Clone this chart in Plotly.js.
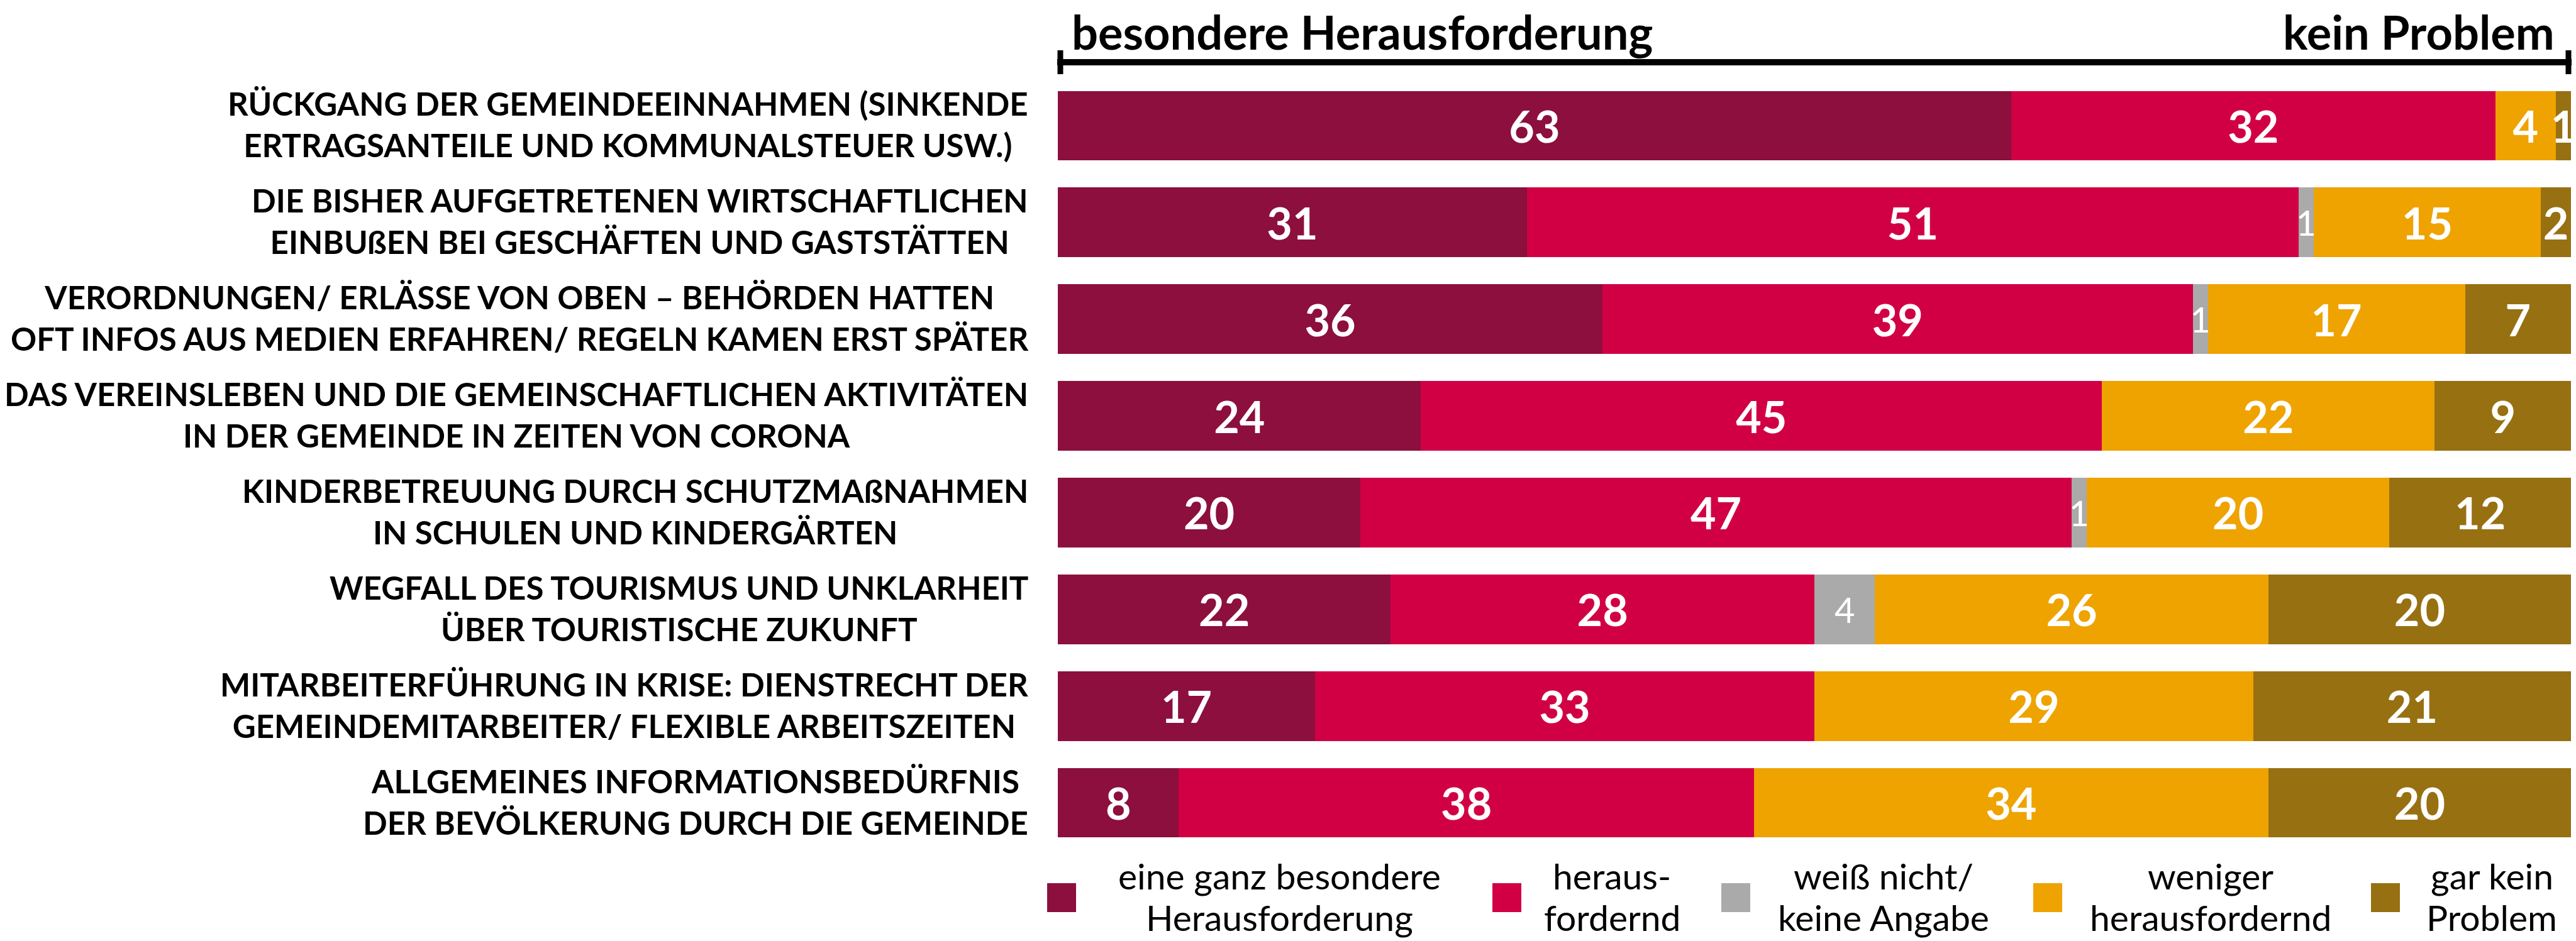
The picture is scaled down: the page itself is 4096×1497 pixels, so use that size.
<!DOCTYPE html>
<html><head><meta charset="utf-8">
<script src="https://cdn.plot.ly/plotly-3.0.1.min.js"></script>
<style>html,body{margin:0;padding:0;background:#fff;overflow:hidden}</style>
</head><body><div id="chart" style="width:4096px;height:1497px"></div>
<script>
// ---------- data ----------
const categories = [
  "RÜCKGANG DER GEMEINDEEINNAHMEN (SINKENDE<br>ERTRAGSANTEILE UND KOMMUNALSTEUER USW.)",
  "DIE BISHER AUFGETRETENEN WIRTSCHAFTLICHEN<br>EINBUßEN BEI GESCHÄFTEN UND GASTSTÄTTEN",
  "VERORDNUNGEN/ ERLÄSSE VON OBEN – BEHÖRDEN HATTEN<br>OFT INFOS AUS MEDIEN ERFAHREN/ REGELN KAMEN ERST SPÄTER",
  "DAS VEREINSLEBEN UND DIE GEMEINSCHAFTLICHEN AKTIVITÄTEN<br>IN DER GEMEINDE IN ZEITEN VON CORONA",
  "KINDERBETREUUNG DURCH SCHUTZMAßNAHMEN<br>IN SCHULEN UND KINDERGÄRTEN",
  "WEGFALL DES TOURISMUS UND UNKLARHEIT<br>ÜBER TOURISTISCHE ZUKUNFT",
  "MITARBEITERFÜHRUNG IN KRISE: DIENSTRECHT DER<br>GEMEINDEMITARBEITER/ FLEXIBLE ARBEITSZEITEN",
  "ALLGEMEINES INFORMATIONSBEDÜRFNIS<br>DER BEVÖLKERUNG DURCH DIE GEMEINDE"
];
const seriesNames = [
  ["eine ganz besondere", "Herausforderung"],
  ["heraus-", "fordernd"],
  ["weiß nicht/", "keine Angabe"],
  ["weniger", "herausfordernd"],
  ["gar kein", "Problem"]
];
const ganzBesondere  = [63, 31, 36, 24, 20, 22, 17, 8];
const herausfordernd = [32, 51, 39, 45, 47, 28, 33, 38];
const weissNicht     = [0, 1, 1, 0, 1, 4, 0, 0];
const weniger        = [4, 15, 17, 22, 20, 26, 29, 34];
const garKein        = [1, 2, 7, 9, 12, 20, 21, 20];
const headerLeft = "besondere Herausforderung";
const headerRight = "kein Problem";

// ---------- styles / layout ----------
const colors = ["#8C0F3E", "#D10045", "#AAAAAA", "#EEA300", "#977012"];
const FONT = "Lato, 'Liberation Sans', Arial, sans-serif";
const W = 4096, H = 1497;
const L = 1682, R = 4088, T = 123, B = 1354;
const px = x => (x - L) / (R - L);
const py = y => (B - y) / (B - T);

const series = [ganzBesondere, herausfordernd, weissNicht, weniger, garKein];
const traces = series.map((vals, i) => ({
  type: "bar",
  orientation: "h",
  name: seriesNames[i].join(" "),
  y: categories,
  x: vals,
  text: vals.map(v => v > 0 ? String(v) : ""),
  textposition: "inside",
  insidetextanchor: "middle",
  textangle: 0,
  constraintext: "none",
  cliponaxis: true,
  insidetextfont: i === 2
    ? {family: FONT, size: 56, color: "#ffffff", weight: 400}
    : {family: FONT, size: 70, color: "#ffffff", weight: 700},
  marker: {color: colors[i], line: {width: 0}},
  hoverinfo: "skip",
  showlegend: false
}));

const annotations = [];
// category labels (centered lines, block right-aligned)
categories.forEach(c => {
  annotations.push({
    xref: "paper", yref: "y", x: px(1637), y: c,
    xanchor: "right", yanchor: "middle", align: "center", yshift: 2,
    showarrow: false, text: c,
    font: {family: FONT, size: 51, color: "#000000", weight: 700}
  });
});
// header
annotations.push({
  xref: "paper", yref: "paper", x: px(1702), y: py(50),
  xanchor: "left", yanchor: "middle", showarrow: false, text: headerLeft,
  font: {family: FONT, size: 74, color: "#000000", weight: 700}
});
annotations.push({
  xref: "paper", yref: "paper", x: px(4064), y: py(50),
  xanchor: "right", yanchor: "middle", showarrow: false, text: headerRight,
  font: {family: FONT, size: 74, color: "#000000", weight: 700}
});

const shapes = [
  {type: "line", xref: "paper", yref: "paper", x0: px(1681), x1: px(4089), y0: py(99), y1: py(99), line: {color: "#000", width: 10}},
  {type: "line", xref: "paper", yref: "paper", x0: px(1686), x1: px(1686), y0: py(80), y1: py(118), line: {color: "#000", width: 9}},
  {type: "line", xref: "paper", yref: "paper", x0: px(4084), x1: px(4084), y0: py(80), y1: py(118), line: {color: "#000", width: 9}}
];

// custom legend
const legBoxX = [1665, 2373, 2737, 3233, 3770];
const legTextX = [2034, 2563, 2995, 3515, 3962];
const legY = 1428, box = 46, legLineY = [1393, 1459], LEGSIZE = 57;
seriesNames.forEach((n, i) => {
  shapes.push({type: "rect", xref: "paper", yref: "paper",
    x0: px(legBoxX[i]), x1: px(legBoxX[i] + box),
    y0: py(legY - box / 2), y1: py(legY + box / 2),
    fillcolor: colors[i], line: {width: 0}});
  n.forEach((line, j) => {
    annotations.push({xref: "paper", yref: "paper", x: px(legTextX[i]), y: py(legLineY[j]),
      xanchor: "center", yanchor: "middle", align: "center", showarrow: false, text: line,
      font: {family: FONT, size: LEGSIZE, color: "#000000", weight: 400}});
  });
});

const layout = {
  width: W, height: H,
  margin: {l: L, r: W - R, t: T, b: H - B, pad: 0},
  barmode: "stack",
  bargap: 0.281,
  paper_bgcolor: "#ffffff", plot_bgcolor: "#ffffff",
  xaxis: {range: [0, 100], showgrid: false, zeroline: false, showticklabels: false, ticks: "", showline: false, fixedrange: true},
  yaxis: {type: "category", autorange: "reversed", showgrid: false, zeroline: false, showticklabels: false, ticks: "", showline: false, fixedrange: true},
  showlegend: false,
  annotations: annotations,
  shapes: shapes,
  font: {family: FONT}
};

Plotly.newPlot("chart", traces, layout, {displayModeBar: false, staticPlot: true});
</script></body></html>
